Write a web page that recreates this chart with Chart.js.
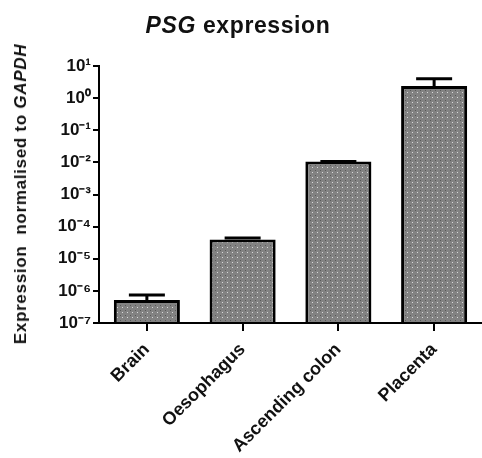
<!DOCTYPE html>
<html>
<head>
<meta charset="utf-8">
<script src="https://cdn.jsdelivr.net/npm/chart.js@4"></script>
<style>
  html, body { margin: 0; padding: 0; background: #fff; }
  #wrap { position: relative; width: 482px; height: 458px; font-family: "Liberation Sans", Arial, sans-serif; }
  #title { position: absolute; left: 0; width: 476px; top: 12px; text-align: center; font-weight: bold; font-size: 23px; letter-spacing: 0.6px; color: #111; }
  #ylabel { position: absolute; left: 21px; top: 194px; transform: translate(-50%, -50%) rotate(-90deg); white-space: pre; font-weight: bold; font-size: 17px; letter-spacing: 0.7px; color: #111; }
  canvas { position: absolute; left: 0; top: 0; }
</style>
</head>
<body>
<div id="wrap">
  <canvas id="chart" width="482" height="458"></canvas>
  <div id="title"><i>PSG</i> expression</div>
  <div id="ylabel">Expression  normalised to <i>GAPDH</i></div>
</div>
<script>
const tissues = ["Brain", "Oesophagus", "Ascending colon", "Placenta"];
const expression = [5.2e-7, 4.0e-5, 1.07e-2, 2.4];
const errorUpper = [7.4e-7, 4.4e-5, 1.07e-2, 4.0];
const yTicks = [1e-7, 1e-6, 1e-5, 1e-4, 1e-3, 1e-2, 1e-1, 1e0, 1e1];

const sup = { "0": "⁰", "1": "¹", "2": "²", "3": "³", "4": "⁴", "5": "⁵", "6": "⁶", "7": "⁷", "8": "⁸", "9": "⁹", "-": "⁻" };
function powerLabel(v) {
  const e = Math.round(Math.log10(v)).toString();
  return "10" + e.split("").map(c => sup[c]).join("");
}

// dotted grey fill like the original bars
function makePattern() {
  const c = document.createElement("canvas");
  c.width = 5; c.height = 5;
  const g = c.getContext("2d");
  g.fillStyle = "#828282";
  g.fillRect(0, 0, 5, 5);
  g.fillStyle = "#d8d8d8";
  g.fillRect(2, 2, 1, 1);
  g.fillStyle = "#5a5a5a";
  g.fillRect(0, 0, 1, 1);
  return g.createPattern(c, "repeat");
}

// error bars (upper side only)
const errorBars = {
  id: "errorBars",
  afterDatasetsDraw(chart) {
    const ctx = chart.ctx;
    const meta = chart.getDatasetMeta(0);
    const y = chart.scales.y;
    ctx.save();
    ctx.strokeStyle = "#000";
    ctx.lineWidth = 3;
    meta.data.forEach((bar, i) => {
      const top = y.getPixelForValue(errorUpper[i]);
      const base = y.getPixelForValue(expression[i]);
      const half = 18;
      ctx.beginPath();
      ctx.moveTo(bar.x, base);
      ctx.lineTo(bar.x, top);
      ctx.moveTo(bar.x - half, top);
      ctx.lineTo(bar.x + half, top);
      ctx.stroke();
    });
    ctx.restore();
  }
};

new Chart(document.getElementById("chart"), {
  type: "bar",
  data: {
    labels: tissues,
    datasets: [{
      data: expression,
      backgroundColor: makePattern(),
      borderColor: "#000",
      borderWidth: 3,
      borderSkipped: "bottom",
      base: 1e-7,
      categoryPercentage: 1,
      barPercentage: 0.69
    }]
  },
  plugins: [errorBars],
  options: {
    responsive: false,
    animation: false,
    layout: { padding: { top: 66, right: -3, left: 0, bottom: 0 } },
    plugins: { legend: { display: false }, tooltip: { enabled: false } },
    scales: {
      x: {
        grid: { display: true, drawOnChartArea: false, offset: false, tickLength: 8, color: "#000", lineWidth: 2 },
        border: { color: "#000", width: 2 },
        ticks: {
          color: "#111",
          font: { family: "Liberation Sans", size: 18, weight: "bold" },
          minRotation: 45, maxRotation: 45, padding: 8
        },
        afterFit(scale) { scale.height = 135; }
      },
      y: {
        type: "logarithmic",
        min: 1e-7,
        max: 10,
        afterBuildTicks(scale) { scale.ticks = yTicks.map(v => ({ value: v, major: true })); },
        grid: { display: true, drawOnChartArea: false, tickLength: 6, color: "#000", lineWidth: 2 },
        border: { color: "#000", width: 2 },
        ticks: {
          color: "#111",
          font: { family: "Liberation Sans", size: 17, weight: "bold" },
          padding: 2,
          autoSkip: false,
          callback: (v) => powerLabel(v)
        },
        afterFit(scale) { scale.width = 99; }
      }
    }
  }
});
</script>
</body>
</html>
